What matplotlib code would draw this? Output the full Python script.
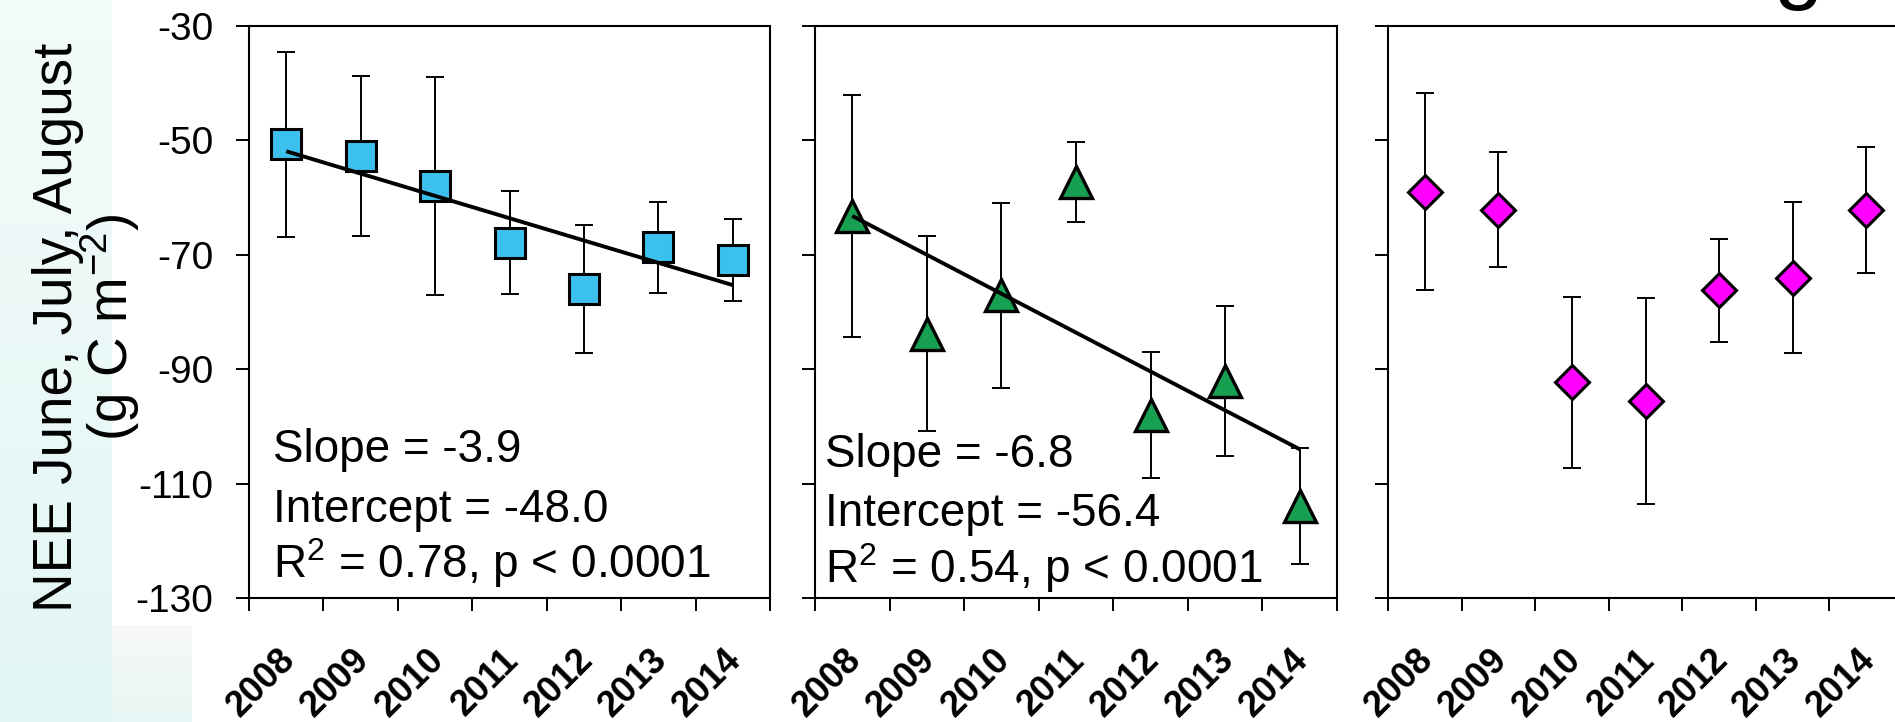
import numpy as np
import matplotlib.pyplot as plt

plt.rcParams['font.family'] = ['Liberation Sans', 'DejaVu Sans']
plt.rcParams['mathtext.default'] = 'regular'
plt.rcParams['axes.unicode_minus'] = False

# --- data (NEE, g C m-2) ---
years = ['2008', '2009', '2010', '2011', '2012', '2013', '2014']

nee_sq = [-50.7, -52.7, -58.0, -67.9, -76.0, -68.7, -70.9]
err_sq = [16.2, 14.0, 19.0, 9.0, 11.2, 8.0, 7.1]

nee_tri = [-63.2, -83.8, -77.1, -57.3, -98.0, -92.0, -113.9]
err_tri = [21.1, 17.0, 16.1, 7.0, 11.0, 13.1, 10.1]

nee_dia = [-59.0, -62.1, -92.3, -95.5, -76.2, -74.0, -62.1]
err_dia = [17.2, 10.0, 15.0, 18.0, 9.0, 13.2, 11.0]

# linear fits printed in the panels: slope, intercept, R2
slopes = [-3.9, -6.8, None]
intercepts = [-48.0, -56.4, None]
r2 = [0.78, 0.54, None]

W, H = 1895, 722
fig = plt.figure(figsize=(W / 100, H / 100), dpi=100)
fig.patch.set_facecolor('white')

# slide background showing round the pasted figure
bg = fig.add_axes([0, 0, 1, 1], zorder=-10)
g = np.linspace(0, 1, 256)[:, None, None]
top_c = np.array([0.955, 0.985, 0.982])
bot_c = np.array([0.885, 0.965, 0.955])
bg.imshow(top_c + (bot_c - top_c) * g, extent=[0, 112, H, 0], aspect='auto')
top_c2 = np.array([0.97, 0.97, 0.97])
bot_c2 = np.array([0.905, 0.968, 0.958])
bg.imshow(top_c2 + (bot_c2 - top_c2) * g, extent=[112, 192, H, 625], aspect='auto')
bg.set_xlim(0, W)
bg.set_ylim(H, 0)
bg.axis('off')

# panel placement in pixels
y_top, y_bot = 26, 598
panels = [(249, 521), (815, 522), (1388, 515)]

series = [
    (nee_sq, err_sq, 's', 22, 2.2, '#3cc1ef'),
    (nee_tri, err_tri, '^', 23, 2.4, '#17a052'),
    (nee_dia, err_dia, 'D', 17, 2.2, '#ff00ff'),
]
text_x = [0.32, 0.13]
text_y = [[-106.2, -116.7, -126.5], [-107.1, -117.4, -127.3]]

x = np.arange(len(years)) + 0.5
idx = np.arange(1, len(years) + 1)

for i, ((x0, w), (vals, err, mk, ms, mew, col)) in enumerate(zip(panels, series)):
    ax = fig.add_axes([x0 / W, (H - y_bot) / H, w / W, (y_bot - y_top) / H])
    ax.set_facecolor('none')

    ax.errorbar(x, vals, yerr=err, fmt='none', ecolor='black',
                elinewidth=1.4, capsize=6.5, capthick=1.4, zorder=2)
    ax.plot(x, vals, linestyle='none', marker=mk, ms=ms, mfc=col,
            mec='black', mew=mew, zorder=3)

    if slopes[i] is not None:
        ax.plot(x, intercepts[i] + slopes[i] * idx, color='black', lw=2.8,
                zorder=4, solid_capstyle='butt')
        lines = [f'Slope = {slopes[i]:.1f}',
                 f'Intercept = {intercepts[i]:.1f}',
                 f'R$^{{2}}$ = {r2[i]:.2f}, p < 0.0001']
        for s, ty in zip(lines, text_y[i]):
            ax.text(text_x[i], ty, s, fontsize=33, va='baseline', ha='left')

    ax.set_xlim(0, 7)
    ax.set_ylim(-130, -30)
    ax.set_xticks(np.arange(8))
    ax.set_xticks(x - 0.12, years, minor=True)
    ax.set_yticks(np.arange(-130, -29, 20))

    ax.tick_params(axis='both', which='major', direction='out', length=9.4,
                   width=1.4, color='black', labelsize=28, pad=16.5)
    ax.tick_params(axis='x', which='major', labelbottom=False)
    ax.tick_params(axis='x', which='minor', length=0, pad=32, labelsize=26)
    plt.setp(ax.get_xticklabels(minor=True), rotation=45, ha='right',
             va='top', rotation_mode='anchor', fontweight='bold')
    if i > 0:
        ax.tick_params(axis='y', labelleft=False)
    for sp in ax.spines.values():
        sp.set_linewidth(1.5)

# y label written on the slide
fig.text(72 / W, 1 - 327 / H, 'NEE June, July, August', rotation=90,
         rotation_mode='anchor', ha='center', va='baseline', fontsize=39.5)
fig.text(128 / W, 1 - 327 / H, '(g C m$^{-2}$)', rotation=90,
         rotation_mode='anchor', ha='center', va='baseline', fontsize=39.5)

# tail of the slide title cut off at the top edge
fig.text(1798 / W, 1 + 8 / H, 'g', ha='center', va='baseline', fontsize=64)

fig.savefig('out.png', dpi=100)
